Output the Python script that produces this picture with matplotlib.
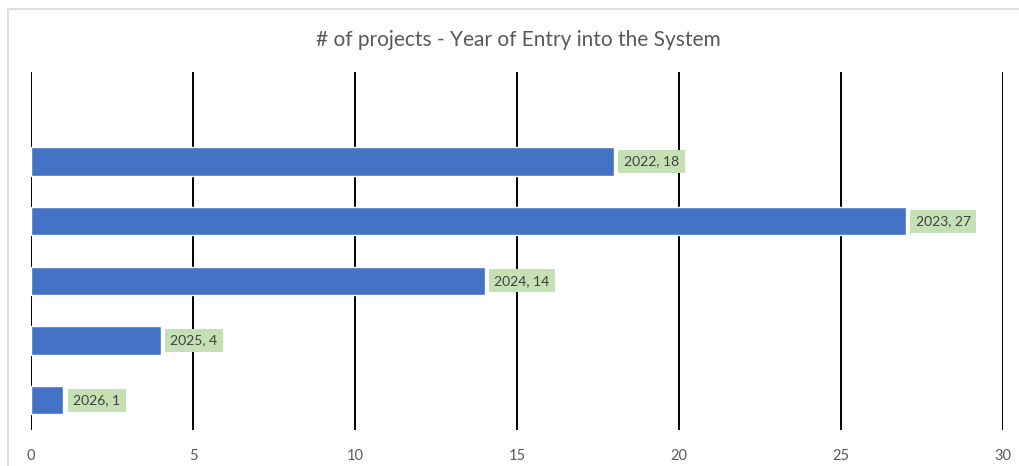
import matplotlib
matplotlib.use("Agg")
import matplotlib.pyplot as plt
from matplotlib.patches import Rectangle

# données
years = ["2022", "2023", "2024", "2025", "2026"]
counts = [18, 27, 14, 4, 1]
xticks = [0, 5, 10, 15, 20, 25, 30]

BAR = "#4472C4"
TAG = "#C5E0B4"
TXT = "#404040"
AX = "#595959"

plt.rcParams["font.family"] = ["Lato", "DejaVu Sans"]

fig = plt.figure(figsize=(10.19, 4.66), dpi=100, facecolor="white")
ax = fig.add_axes([31 / 1019, 1 - 430 / 466, 972 / 1019, 358 / 466])

# cadre gris clair (bord gauche + haut, comme la capture)
fig.patches.append(Rectangle((8 / 1019, -0.1), 1.2, 1 - 9 / 466 + 0.1,
                             transform=fig.transFigure, fill=False,
                             edgecolor="#D9D9D9", linewidth=1.2))

pos = list(range(len(years)))[::-1]  # 2022 en haut
ax.barh(pos, counts, height=0.47, color=BAR, edgecolor="white", linewidth=1.0, zorder=3)

for y, yr, c in zip(pos, years, counts):
    ax.annotate(f"{yr}, {c}", xy=(c, y), xytext=(7, 0), textcoords="offset points",
                ha="left", va="center", color=TXT, fontsize=10, zorder=5,
                bbox=dict(boxstyle="square,pad=0.4", fc=TAG, ec="none"))

ax.set_xlim(0, 30)
ax.set_ylim(-0.5, 5.5)
ax.set_xticks(xticks)
ax.set_xticklabels([str(t) for t in xticks])
ax.set_yticks([])
ax.grid(axis="x", color="black", linewidth=1.4, zorder=1)
ax.tick_params(axis="x", length=0, colors=AX, labelsize=10.5, pad=14)
for s in ax.spines.values():
    s.set_visible(False)
ax.patch.set_alpha(0)

fig.text(518 / 1019, 1 - 40 / 466, "# of projects - Year of Entry into the System",
         ha="center", va="center", color=AX, fontsize=15)

fig.savefig("out.png", dpi=100, facecolor="white")
